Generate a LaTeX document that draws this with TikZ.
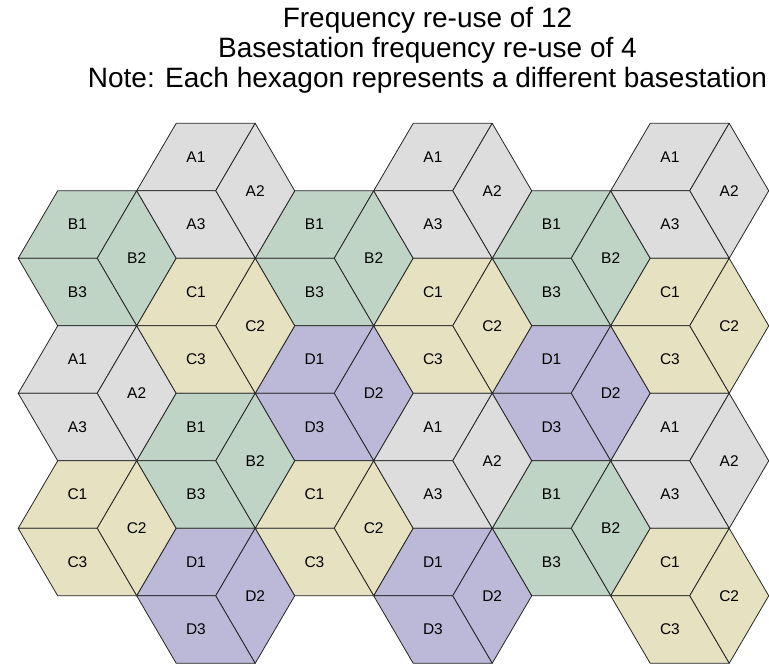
\documentclass[tikz,border=0pt]{standalone}
\usepackage{fontspec}
\setmainfont{Liberation Sans}
\definecolor{cellA}{RGB}{221,221,221}
\definecolor{cellB}{RGB}{192,212,198}
\definecolor{cellC}{RGB}{230,225,192}
\definecolor{cellD}{RGB}{187,184,216}
\usetikzlibrary{positioning}
% one basestation: three sectors round its centre
% #1 x, #2 y, #3 letter, #4 name tag
\newcommand{\basestation}[4]{%
  \begin{scope}[shift={(#1,#2)}]
    \filldraw[sector, fill=cell#3] (0,0) -- (-79,0) -- (-39.5,-67.5) -- (39.5,-67.5) -- cycle;
    \filldraw[sector, fill=cell#3] (0,0) -- (39.5,-67.5) -- (79,0) -- (39.5,67.5) -- cycle;
    \filldraw[sector, fill=cell#3] (0,0) -- (39.5,67.5) -- (-39.5,67.5) -- (-79,0) -- cycle;
    \node[lbl] (#4-1) at (-19.75,-33.75) {#31};
    \node[lbl] (#4-2) at (39.5,0) {#32};
    \node[lbl] (#4-3) at (-19.75,33.75) {#33};
  \end{scope}}

\begin{document}
\begin{tikzpicture}[x=1pt, y=-1pt,
    sector/.style={draw=black!85, line width=0.8pt, line join=round},
    lbl/.style={font=\fontsize{15.5}{18}\selectfont, inner sep=0pt},
    heading/.style={font=\fontsize{28}{34}\selectfont, anchor=base, inner sep=0pt}
  ]
  \useasboundingbox (0,0) rectangle (769,665);

  % title lines
  \node[heading] (title1) at (427.5,27) {Frequency re-use of 12};
  \node[heading] (title2) at (427.5,57) {Basestation frequency re-use of 4};
  \node[heading] (title3) at (427.5,87) {Note: Each hexagon represents a different basestation};

  % even columns (start lower)
  \foreach \col/\cells in {0/{B,A,C}, 2/{B,D,C}, 4/{B,D,B}} {
    \foreach \bs [count=\row from 0] in \cells {
      \basestation{97.2+118.5*\col}{258.3+135*\row}{\bs}{c\col-\row}
    }
  }
  % odd columns (start higher)
  \foreach \col/\cells in {1/{A,C,B,D}, 3/{A,C,A,D}, 5/{A,C,A,C}} {
    \foreach \bs [count=\row from 0] in \cells {
      \basestation{97.2+118.5*\col}{190.8+135*\row}{\bs}{c\col-\row}
    }
  }
\end{tikzpicture}
\end{document}
